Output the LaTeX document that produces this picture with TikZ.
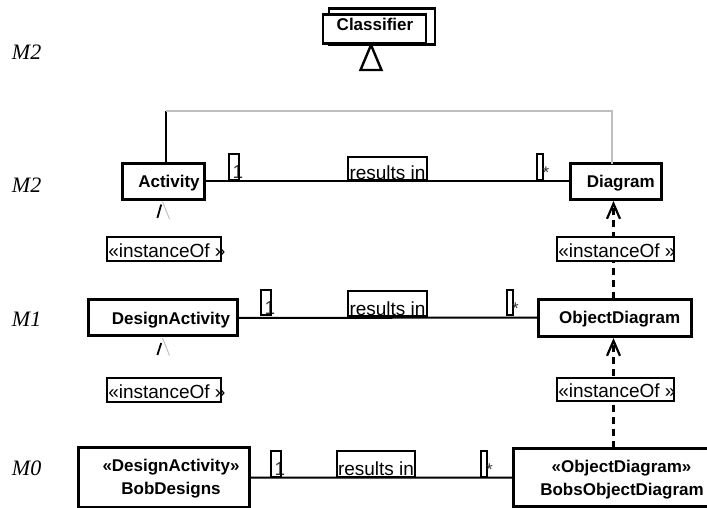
\documentclass[tikz,border=0pt]{standalone}
\usepackage{fontspec}
\setmainfont{Liberation Serif}
\newfontfamily\umlfont{Liberation Sans}
\usetikzlibrary{arrows.meta}
\definecolor{routegray}{gray}{0.75}
\definecolor{glyphgray}{gray}{0.2}
\begin{document}
\begin{tikzpicture}[x=1pt,y=-1pt,
  every node/.style={inner sep=0pt, outer sep=0pt},
  classbox/.style={draw, line width=3pt, fill=white, rectangle},
  classname/.style={font=\umlfont\bfseries\fontsize{17}{20}\selectfont, anchor=base},
  tagbox/.style={draw, line width=2pt, fill=white, rectangle},
  tagtext/.style={font=\umlfont\fontsize{19}{22}\selectfont, anchor=base west},
  multbox/.style={draw, line width=1.8pt, rectangle},
  multtext/.style={font=\umlfont\fontsize{19}{22}\selectfont, anchor=base west, text=glyphgray},
  startext/.style={font=\umlfont\fontsize{17}{20}\selectfont, anchor=base west, text=glyphgray},
  assoc/.style={line width=2pt},
  inst/.style={line width=2.2pt, dash pattern=on 7pt off 5pt,
    -{Straight Barb[length=15pt,width=13pt]}, shorten >=2pt},
  level/.style={font=\itshape\fontsize{22}{26}\selectfont, anchor=base west}
]
\useasboundingbox (0,0) rectangle (707,508);

% metalevel captions
\node[level] (lvl-m2a) at (12,60) {M2};
\node[level] (lvl-m2b) at (12,193) {M2};
\node[level] (lvl-m1) at (12,326) {M1};
\node[level] (lvl-m0) at (12,475) {M0};

% Classifier (stacked class symbol) with generalization triangle
\node[classbox, line width=2.5pt, minimum width=106pt, minimum height=36pt] (clsback) at (382,26.3) {};
\node[classbox, line width=2.5pt, minimum width=103pt, minimum height=29pt] (cls) at (374.3,28.8) {};
\node[classname] (cls-name) at (375,31) {Classifier};
\coordinate (gen) at (371,45);
\draw[line width=2.4pt, fill=white, line join=miter] (gen) -- ++(-10.5,25) -- ++(21,0) -- cycle;

% classes
\node[classbox, minimum width=81.6pt, minimum height=35.7pt] (act) at (163.5,181.5) {};
\node[classname] (act-name) at (169,187) {Activity};
\node[classbox, minimum width=91pt, minimum height=35pt] (diag) at (615.5,181.5) {};
\node[classname] (diag-name) at (620.8,187) {Diagram};
\node[classbox, minimum width=148.7pt, minimum height=35.7pt] (dact) at (163.3,317.8) {};
\node[classname] (dact-name) at (171,324) {DesignActivity};
\node[classbox, minimum width=152.7pt, minimum height=36.7pt] (objd) at (614.7,317.7) {};
\node[classname] (objd-name) at (619.7,323.5) {ObjectDiagram};
\node[classbox, minimum width=171pt, minimum height=60pt] (bobd) at (163.8,477.7) {};
\node[classname] (bobd-stereo) at (171,471) {«DesignActivity»};
\node[classname] (bobd-name) at (171,494.5) {BobDesigns};
\node[classbox, minimum width=216pt, minimum height=58.4pt] (bobs) at (621,477.5) {};
\node[classname] (bobs-stereo) at (621.5,472) {«ObjectDiagram»};
\node[classname] (bobs-name) at (622,495) {BobsObjectDiagram};

% route from Activity to Diagram
\coordinate (routeL) at (166,111);
\coordinate (routeR) at (612,111);
\draw[line width=2pt] (act.north -| routeL) -- (routeL);
\draw[routegray, line width=1.2pt] (routeL) -- (routeR) -- (diag.north -| routeR);

% associations
\draw[assoc] (act.east) -- (diag.west);
\draw[assoc] (dact.east) -- (objd.west);
\draw[assoc] (bobd.east) -- (bobs.west);

% open tips below Activity and DesignActivity
\coordinate (actTip) at (162,201.5);
\draw[line width=1.8pt] (actTip) ++(-0.8,3) -- ++(-3.8,13.5);
\draw[routegray, line width=1pt] (actTip) ++(0.5,0) -- ++(7,17.5);
\coordinate (dactTip) at (162,338);
\draw[line width=1.8pt] (dactTip) ++(-0.8,5) -- ++(-3.8,12);
\draw[routegray, line width=1pt] (dactTip) ++(0.5,0) -- ++(7,17.5);

% instanceOf dependencies on the right
\coordinate (rcol) at (613.5,0);
\draw[inst] (objd.north -| rcol) -- (diag.south -| rcol);
\draw[inst] (bobs.north -| rcol) -- (objd.south -| rcol);

% stereotype labels
\node[tagbox, minimum width=114.3pt, minimum height=24.3pt] (tagL1) at (163.9,248.9) {};
\node[tagtext] (tagL1-text) at (108.3,257.3) {«instanceOf »};
\node[tagbox, minimum width=117.3pt, minimum height=24pt] (tagR1) at (615.4,248.7) {};
\node[tagtext] (tagR1-text) at (558.3,257) {«instanceOf »};
\node[tagbox, minimum width=114.3pt, minimum height=23.4pt] (tagL2) at (163.9,390) {};
\node[tagtext] (tagL2-text) at (108.3,398.3) {«instanceOf »};
\node[tagbox, minimum width=117.3pt, minimum height=22.4pt] (tagR2) at (615.4,389.5) {};
\node[tagtext] (tagR2-text) at (558.3,397.7) {«instanceOf »};

% association names
\node[tagbox, minimum width=79pt, minimum height=23.3pt] (res2) at (387.8,168.4) {};
\node[tagtext] (res2-text) at (349.5,179) {results in};
\node[tagbox, minimum width=79pt, minimum height=25pt] (res1) at (387.5,303.5) {};
\node[tagtext] (res1-text) at (349.5,315.5) {results in};
\node[tagbox, minimum width=78.3pt, minimum height=26pt] (res0) at (375.9,463.7) {};
\node[tagtext] (res0-text) at (338,475.5) {results in};

% multiplicities
\node[multtext] (m2one-text) at (232.5,178.5) {1};
\node[multbox, minimum width=10pt, minimum height=26pt] (m2one) at (234,167.3) {};
\node[multbox, minimum width=6pt, minimum height=26pt] (m2many) at (540,167) {};
\node[startext] (m2many-text) at (542.5,178.5) {*};
\node[multtext] (m1one-text) at (264.5,314) {1};
\node[multbox, minimum width=10pt, minimum height=25pt] (m1one) at (266,302.5) {};
\node[multbox, minimum width=6pt, minimum height=25pt] (m1many) at (509.7,302.5) {};
\node[startext] (m1many-text) at (512,314.5) {*};
\node[multtext] (m0one-text) at (274.5,475.5) {1};
\node[multbox, minimum width=10pt, minimum height=26pt] (m0one) at (276,463.7) {};
\node[multbox, minimum width=5.7pt, minimum height=26pt] (m0many) at (483.9,463.7) {};
\node[startext] (m0many-text) at (486,475.5) {*};
\end{tikzpicture}
\end{document}
